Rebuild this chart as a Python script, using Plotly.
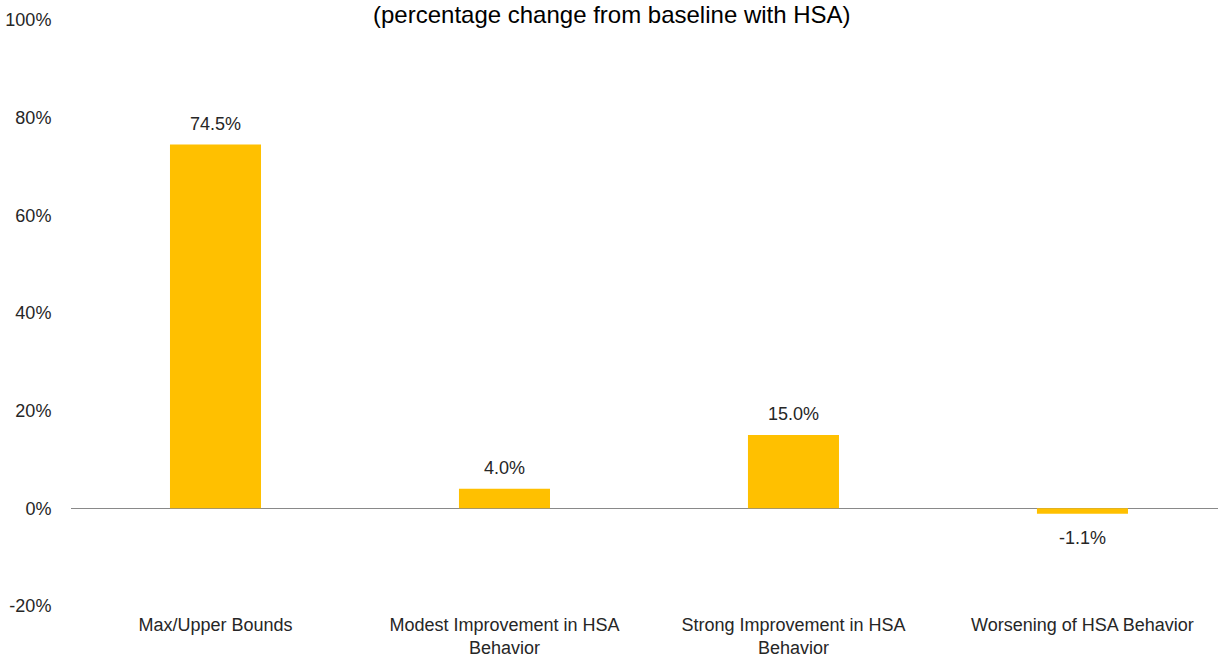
import plotly.graph_objects as go

categories = ["Max/Upper Bounds", "Modest Improvement in HSA<br>Behavior",
              "Strong Improvement in HSA<br>Behavior", "Worsening of HSA Behavior"]
values = [74.5, 4.0, 15.0, -1.1]
labels = ["74.5%", "4.0%", "15.0%", "-1.1%"]
tick_vals = [-20, 0, 20, 40, 60, 80, 100]
tick_text = ["-20%", "0%", "20%", "40%", "60%", "80%", "100%"]

fig = go.Figure()
fig.add_trace(go.Bar(
    x=categories, y=values, width=0.315,
    marker=dict(color="#FFC000", line=dict(width=0)),
))
annotations = [dict(text="(percentage change from baseline with HSA)",
                    xref="paper", yref="paper", x=0.472, y=1, yshift=6,
                    xanchor="center", yanchor="middle", showarrow=False,
                    font=dict(size=24, color="#000000"))]
for c, v, t in zip(categories, values, labels):
    annotations.append(dict(
        x=c, y=v, xref="x", yref="y", text=t, showarrow=False,
        yanchor="bottom" if v >= 0 else "top",
        yshift=9 if v >= 0 else -12,
        font=dict(size=18, color="#262626"),
    ))
fig.update_layout(
    width=1218, height=658,
    margin=dict(l=71, r=0, t=20, b=52),
    paper_bgcolor="white", plot_bgcolor="white",
    showlegend=False,
    font=dict(family="Liberation Sans, Arial", size=18, color="#262626"),
    annotations=annotations,
)
fig.update_xaxes(range=[-0.5, 3.469], showgrid=False, showline=False,
                 zeroline=False, ticks="", ticklabelstandoff=6,
                 tickfont=dict(size=18, color="#262626"))
fig.update_yaxes(range=[-20, 100], tickvals=tick_vals, ticktext=tick_text,
                 showgrid=False, showline=False, zeroline=True,
                 zerolinecolor="#898989", zerolinewidth=1.3,
                 ticks="outside", ticklen=15, tickcolor="rgba(0,0,0,0)",
                 tickfont=dict(size=18, color="#262626"))
fig.write_html("out.html")
